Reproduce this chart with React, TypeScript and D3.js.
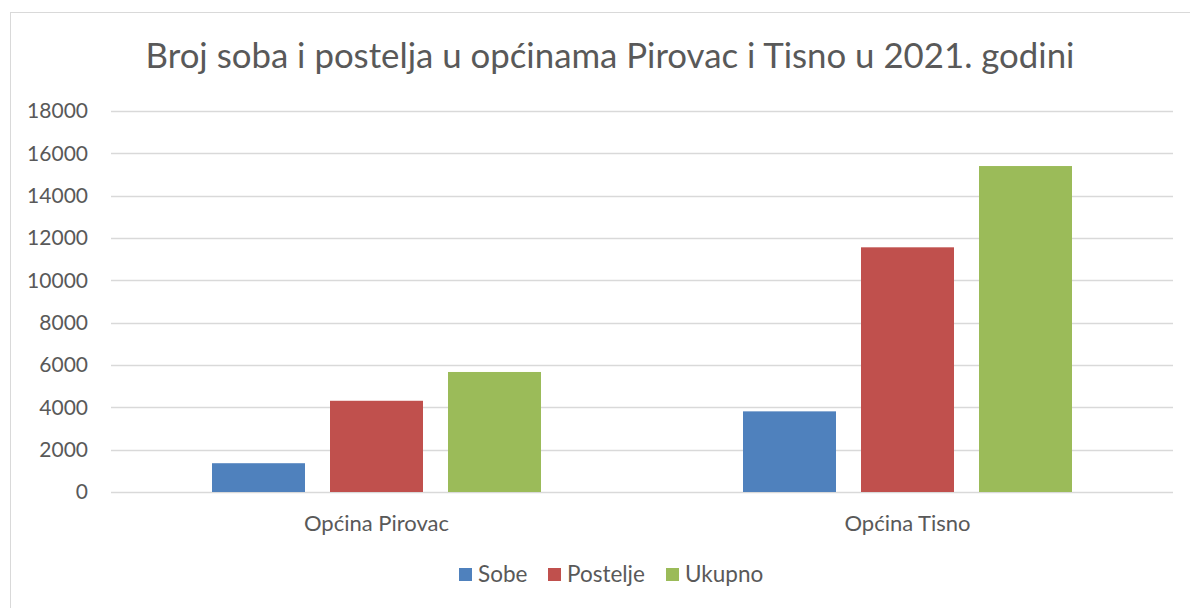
import React, { useEffect, useRef } from "react";
import * as d3 from "d3";

const categories = ["Općina Pirovac", "Općina Tisno"];
const seriesNames = ["Sobe", "Postelje", "Ukupno"];
const sobe = [1360, 3810];
const postelje = [4310, 11560];
const ukupno = [5670, 15400];
const yTicks = [0, 2000, 4000, 6000, 8000, 10000, 12000, 14000, 16000, 18000];
const colors = ["#4f81bd", "#c0504d", "#9bbb59"];

const App = () => {
    const svgRef = useRef<SVGSVGElement>(null);

    useEffect(() => {
        const width = 1190;
        const height = 608;
        const font = "Lato, 'Open Sans', sans-serif";
        const textColor = "#595959";
        const values = [sobe, postelje, ukupno];

        const svg = d3.select(svgRef.current);
        svg.selectAll("*").remove();

        svg.append("rect")
            .attr("width", width)
            .attr("height", height)
            .attr("fill", "white");

        // chart frame (cropped: only top and left edges visible)
        svg.append("rect")
            .attr("x", 10.5)
            .attr("y", 12.5)
            .attr("width", 1300)
            .attr("height", 700)
            .attr("fill", "none")
            .attr("stroke", "#d9d9d9");

        const left = 111;
        const right = 1173;
        const top = 111;
        const bottom = 492;

        const y = d3.scaleLinear().domain([0, 18000]).range([bottom, top]);
        const x0 = d3.scaleBand().domain(categories).range([left, right]).padding(0);
        const x1 = d3
            .scaleBand()
            .domain(seriesNames)
            .range([0, x0.bandwidth()])
            .paddingInner(0.212)
            .paddingOuter(0.856);

        // gridlines
        svg.append("g")
            .selectAll("line")
            .data(yTicks)
            .join("line")
            .attr("x1", left)
            .attr("x2", right)
            .attr("y1", (d) => Math.round(y(d)) + 0.5)
            .attr("y2", (d) => Math.round(y(d)) + 0.5)
            .attr("stroke", "#d9d9d9")
            .attr("stroke-width", 1.5);

        // y labels
        svg.append("g")
            .selectAll("text")
            .data(yTicks)
            .join("text")
            .attr("x", 88)
            .attr("y", (d) => y(d))
            .attr("dy", "0.35em")
            .attr("text-anchor", "end")
            .attr("font-family", font)
            .attr("font-size", 21)
            .attr("fill", textColor)
            .text((d) => d);

        // bars
        const groups = svg.append("g")
            .selectAll("g")
            .data(categories)
            .join("g")
            .attr("transform", (d) => `translate(${x0(d)},0)`);

        groups.selectAll("rect")
            .data((_, i) => seriesNames.map((s, j) => ({ s, j, v: values[j][i] })))
            .join("rect")
            .attr("x", (d) => x1(d.s)!)
            .attr("width", x1.bandwidth())
            .attr("y", (d) => y(d.v))
            .attr("height", (d) => y(0) - y(d.v))
            .attr("fill", (d) => colors[d.j]);

        // category labels
        svg.append("g")
            .selectAll("text")
            .data(categories)
            .join("text")
            .attr("x", (d) => x0(d)! + x0.bandwidth() / 2)
            .attr("y", 523)
            .attr("dy", "0.35em")
            .attr("text-anchor", "middle")
            .attr("font-family", font)
            .attr("font-size", 22)
            .attr("fill", textColor)
            .text((d) => d);

        // title
        svg.append("text")
            .attr("x", 610)
            .attr("y", 68)
            .attr("text-anchor", "middle")
            .attr("font-family", font)
            .attr("font-size", 34.8)
            .attr("fill", textColor)
            .text("Broj soba i postelja u općinama Pirovac i Tisno u 2021. godini");

        // legend
        const legendX = [459, 548, 666];
        const legend = svg.append("g")
            .selectAll("g")
            .data(seriesNames)
            .join("g")
            .attr("transform", (_, i) => `translate(${legendX[i]},568)`);
        legend.append("rect")
            .attr("width", 13)
            .attr("height", 13)
            .attr("fill", (_, i) => colors[i]);
        legend.append("text")
            .attr("x", 19)
            .attr("y", 6.5)
            .attr("dy", "0.35em")
            .attr("font-family", font)
            .attr("font-size", 22.5)
            .attr("fill", textColor)
            .text((d) => d);
    }, []);

    return (
        <svg
            ref={svgRef}
            width={1190}
            height={608}
            style={{ position: "absolute", left: 0, top: 0 }}
        />
    );
};

export default App;
